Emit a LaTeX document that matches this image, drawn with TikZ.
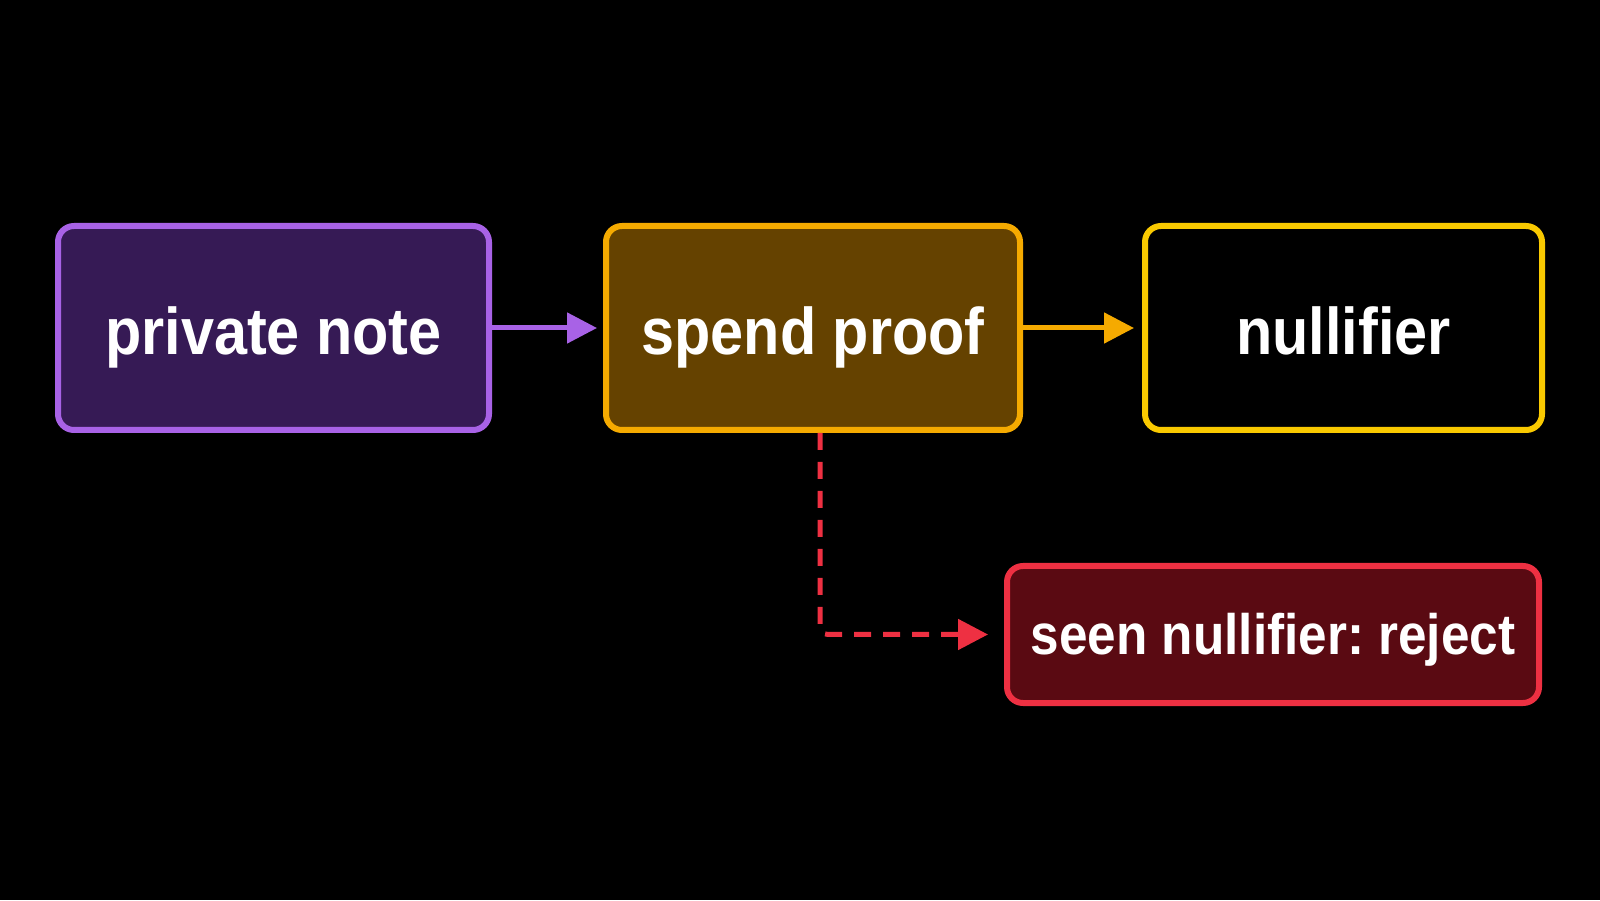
\documentclass[tikz,border=0pt]{standalone}
\usepackage{fontspec}
\setmainfont{Liberation Sans}
\newfontfamily\boxfont[FakeStretch=0.9]{Liberation Sans}
\usetikzlibrary{arrows.meta}
\frenchspacing
\definecolor{purpS}{HTML}{A862E6}
\definecolor{purpF}{HTML}{361A55}
\definecolor{orgS}{HTML}{F5AA00}
\definecolor{orgF}{HTML}{654200}
\definecolor{yelS}{HTML}{F9C900}
\definecolor{redS}{HTML}{EE3042}
\definecolor{redF}{HTML}{5A0A12}
\tikzset{
  box/.style={draw, line width=6pt, rounded corners=16pt, inner sep=0pt,
    text=white, text height=54pt, text depth=0pt,
    font=\boxfont\fontsize{66}{80}\selectfont\bfseries},
  conn/.style={line width=5pt, -{Triangle[length=30pt,width=30pt]}},
}
\begin{document}
\begin{tikzpicture}[x=1pt,y=1pt]
\fill[black] (0,0) rectangle (1600,900);
\useasboundingbox (0,0) rectangle (1600,900);
\node[box, draw=purpS, fill=purpF, minimum width=431pt, minimum height=204pt] (pn) at (273.5,572) {private note};
\node[box, draw=orgS, fill=orgF, minimum width=414pt, minimum height=204pt] (sp) at (813,572) {spend proof};
\node[box, draw=yelS, fill=black, minimum width=397pt, minimum height=204pt] (nf) at (1343.5,572) {nullifier};
\node[box, draw=redS, fill=redF, minimum width=532pt, minimum height=137pt, text height=40pt,
  font=\boxfont\fontsize{57}{70}\selectfont\bfseries] (sn) at (1273,265.5) {seen nullifier: reject};
\draw[conn, draw=purpS] (pn.east) -- ([xshift=-6pt]sp.west);
\draw[conn, draw=orgS] (sp.east) -- ([xshift=-8pt]nf.west);
\coordinate (d0) at ([xshift=7pt]sp.south);
\coordinate (d1) at (d0 |- sn.west);
\draw[conn, draw=redS, dash pattern=on 17pt off 12pt, rounded corners=8pt] (d0) -- (d1) -- ([xshift=-16pt]sn.west);
\end{tikzpicture}
\end{document}
